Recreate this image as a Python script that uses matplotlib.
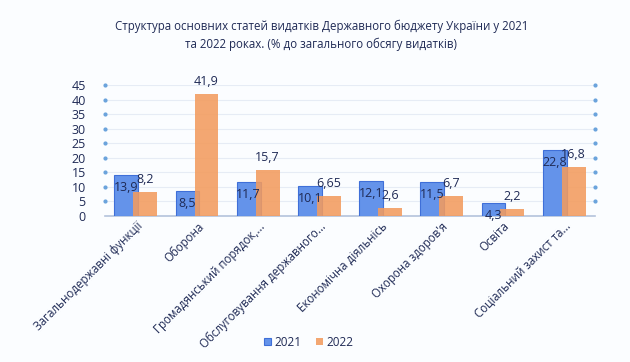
import numpy as np
import matplotlib.pyplot as plt

plt.rcParams['font.family'] = ['Open Sans', 'DejaVu Sans']

categories = ['Загальнодержавні функції', 'Оборона', 'Громадянський порядок,...',
              'Обслуговування державного...', 'Економічна діяльнісь', "Охорона здоров'я",
              'Освіта', 'Соціальний захист та...']
v2021 = [13.9, 8.5, 11.7, 10.1, 12.1, 11.5, 4.3, 22.8]
v2022 = [8.2, 41.9, 15.7, 6.65, 2.6, 6.7, 2.2, 16.8]
lab2021 = ['13,9', '8,5', '11,7', '10,1', '12,1', '11,5', '4,3', '22,8']
lab2022 = ['8,2', '41,9', '15,7', '6,65', '2,6', '6,7', '2,2', '16,8']
yticks = [0, 5, 10, 15, 20, 25, 30, 35, 40, 45]

txt = '#1f2a55'
blue = '#6493ea'
orange = '#f39b5e'

fig = plt.figure(figsize=(6.3, 3.62), dpi=100, facecolor='#fbfdff')
ax = fig.add_axes([0.167, 0.404, 0.777, 0.361])
ax.set_facecolor('#fbfdff')

x = np.arange(len(categories))
w = 0.39
ax.bar(x - 0.155, v2021, w, color=blue, edgecolor='#3f6fd8', lw=0.8, label='2021', zorder=3)
ax.bar(x + 0.155, v2022, w, color=orange, alpha=0.88, label='2022', zorder=4)

for i in range(len(x)):
    ax.annotate(lab2021[i], (x[i] - 0.155, v2021[i]), xytext=(0, -9), textcoords='offset points',
                ha='center', va='center', fontsize=9, color=txt, zorder=5)
    ax.annotate(lab2022[i], (x[i] + 0.155, v2022[i]), xytext=(0, 9), textcoords='offset points',
                ha='center', va='center', fontsize=9, color=txt, zorder=5)

ax.set_xlim(-0.5, 7.5)
ax.set_ylim(0, 45)
ax.set_yticks(yticks)
ax.set_yticklabels([str(t) for t in yticks], fontsize=9, color=txt)
ax.yaxis.grid(True, color='#e6ecf5', lw=0.8, zorder=0)
ax.tick_params(axis='y', length=0, pad=14)
ax.tick_params(axis='x', length=0, pad=3)
ax.set_xticks(x)
ax.set_xticklabels(categories, rotation=45, ha='right', rotation_mode='anchor',
                   fontsize=8.3, color=txt)
for s in ['top', 'right', 'left']:
    ax.spines[s].set_visible(False)
ax.spines['bottom'].set_color('#b4c3dc')
ax.spines['bottom'].set_linewidth(1.2)

# dots at the gridline ends
dots = yticks[1:]
ax.plot([-0.5] * len(dots), dots, 'o', ms=2.0, color='#6aa3dc', clip_on=False, zorder=6)
ax.plot([7.5] * len(dots), dots, 'o', ms=2.0, color='#6aa3dc', clip_on=False, zorder=6)

fig.text(0.51, 0.902, 'Структура основних статей видатків Державного бюджету України у 2021\n'
         'та 2022 роках. (% до загального обсягу видатків)',
         ha='center', va='center', fontsize=8.3, color=txt, linespacing=1.45)

fig.legend(loc='center', bbox_to_anchor=(0.49, 0.055), ncol=2, frameon=False, fontsize=8.5,
           handlelength=0.6, handleheight=0.6, handletextpad=0.3, columnspacing=1.2,
           labelcolor=txt)

fig.savefig('out.png', dpi=100, facecolor=fig.get_facecolor())
